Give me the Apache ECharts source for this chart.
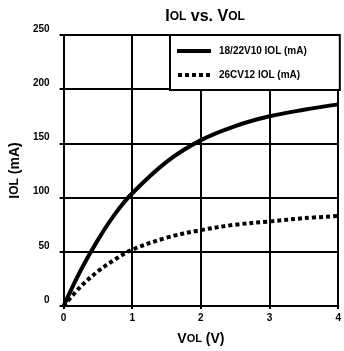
<!DOCTYPE html>
<html>
<head>
<meta charset="utf-8">
<style>
  html, body { margin: 0; padding: 0; background: #ffffff; }
  #chart { width: 344px; height: 351px; }
</style>
<script src="https://cdn.jsdelivr.net/npm/echarts@6/dist/echarts.min.js"></script>
</head>
<body>
<div id="chart"></div>
<script>
// Output voltage (V) sample points
var vol = [0, 0.25, 0.5, 0.75, 1, 1.5, 2, 2.5, 3, 3.5, 4];
// Output sink current (mA) for each device
var iol18_22V10 = [0, 33, 61, 85, 104, 133, 153, 166, 175, 181, 186];
var iol26CV12 = [0, 18, 32, 43, 52, 63, 70, 75, 78, 81, 83];
var yTicks = [0, 50, 100, 150, 200, 250];
var xTicks = [0, 1, 2, 3, 4];

function pairs(xs, ys) {
  return xs.map(function (x, i) { return [x, ys[i]]; });
}

var FONT = '"Liberation Sans", Arial, sans-serif';
var small = { fontFamily: FONT, fontWeight: 'bold', color: '#000' };

// legend swatches: a solid bar and a row of square dots
var SOLID_ICON = 'path://M0,0h36v4h-36z';
var DOTTED_ICON = 'path://M0,0h4v4h-4zM7,0h4v4h-4zM14,0h4v4h-4zM21,0h4v4h-4zM28,0h4v4h-4z';

var chart = echarts.init(document.getElementById('chart'), null, { renderer: 'canvas' });
chart.setOption({
  backgroundColor: '#ffffff',
  animation: false,
  title: {
    text: 'I{s|OL} vs. V{s|OL}',
    left: 200,
    top: 4,
    textAlign: 'center',
    textStyle: {
      fontFamily: FONT, fontWeight: 'bold', fontSize: 16, color: '#000',
      rich: { s: { fontFamily: FONT, fontWeight: 'bold', fontSize: 12, color: '#000' } }
    }
  },
  grid: { left: 57, right: 3, top: 35, bottom: 44, containLabel: false },
  legend: {
    orient: 'vertical',
    left: 170,
    top: 35,
    backgroundColor: '#ffffff',
    borderColor: '#000',
    borderWidth: 2,
    borderRadius: 0,
    padding: [11, 33, 10, 7],
    itemWidth: 34,
    itemHeight: 4,
    itemGap: 14,
    itemStyle: { color: '#000', borderWidth: 0 },
    textStyle: { fontFamily: FONT, fontWeight: 'bold', fontSize: 10, color: '#000', padding: [0, 0, 0, 3] },
    data: [
      { name: '18/22V10 IOL (mA)', icon: SOLID_ICON },
      { name: '26CV12 IOL (mA)', icon: DOTTED_ICON }
    ]
  },
  xAxis: {
    type: 'value',
    min: xTicks[0],
    max: xTicks[xTicks.length - 1],
    interval: 1,
    name: 'V{s|OL} (V)',
    nameLocation: 'middle',
    nameGap: 26,
    nameTextStyle: {
      fontFamily: FONT, fontWeight: 'bold', fontSize: 14, color: '#000',
      rich: { s: { fontFamily: FONT, fontWeight: 'bold', fontSize: 11, color: '#000' } }
    },
    axisLine: { lineStyle: { color: '#000', width: 2 } },
    axisTick: { show: true, length: 3, lineStyle: { color: '#000', width: 2 } },
    axisLabel: Object.assign({ fontSize: 10, margin: 7 }, small),
    splitLine: { show: true, lineStyle: { color: '#000', width: 2 } }
  },
  yAxis: {
    type: 'value',
    min: yTicks[0],
    max: yTicks[yTicks.length - 1],
    interval: 50,
    name: 'I{s|OL} (mA)',
    nameLocation: 'middle',
    nameGap: 36,
    nameRotate: 90,
    nameTextStyle: {
      fontFamily: FONT, fontWeight: 'bold', fontSize: 14, color: '#000',
      rich: { s: { fontFamily: FONT, fontWeight: 'bold', fontSize: 12, color: '#000' } }
    },
    axisLine: { show: true, lineStyle: { color: '#000', width: 2 } },
    axisTick: { show: true, length: 4, lineStyle: { color: '#000', width: 2 } },
    axisLabel: Object.assign({ fontSize: 10, margin: 14, verticalAlign: 'bottom', lineHeight: 12 }, small),
    splitLine: { show: true, lineStyle: { color: '#000', width: 2 } }
  },
  series: [
    {
      name: '18/22V10 IOL (mA)',
      type: 'line',
      smooth: 0.35,
      symbol: 'none',
      data: pairs(vol, iol18_22V10),
      lineStyle: { color: '#000', width: 4, cap: 'butt' },
      itemStyle: { color: '#000' },
      z: 5
    },
    {
      name: '26CV12 IOL (mA)',
      type: 'line',
      smooth: 0.35,
      symbol: 'none',
      data: pairs(vol, iol26CV12),
      lineStyle: { color: '#000', width: 4, type: [4, 3], cap: 'butt' },
      itemStyle: { color: '#000' },
      z: 5
    }
  ]
});
</script>
</body>
</html>
